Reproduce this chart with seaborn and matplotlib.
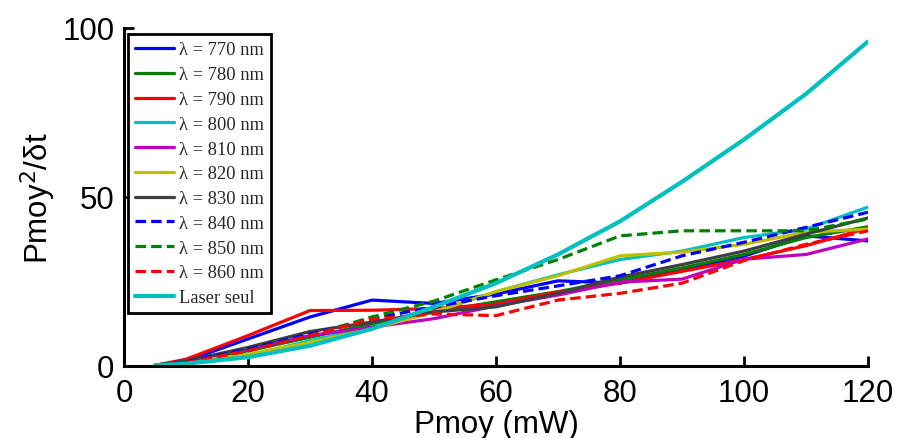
import numpy as np
import pandas as pd
import matplotlib
matplotlib.use("Agg")
import matplotlib.pyplot as plt
import seaborn as sns

sns.set_theme(style="white")
plt.rcParams['font.family'] = ['Liberation Sans', 'DejaVu Sans']

x = [5, 10, 20, 30, 40, 50, 60, 70, 80, 90, 100, 110, 120]

y770 = [0.2, 1.5, 8, 14.5, 19.5, 18.5, 21.3, 25.2, 24.5, 28.5, 32.5, 38.5, 37]
y780 = [0.2, 1.2, 4.5, 8.5, 12.5, 16, 19, 22, 25.5, 29, 33, 38, 41.2]
y790 = [0.2, 2, 9, 16.4, 16.5, 17, 18.3, 21.9, 24.5, 28, 31.5, 35.6, 40.8]
y800 = [0.2, 0.8, 3, 7.5, 11.5, 16, 22, 27, 31.5, 34, 38, 40.5, 47]
y810 = [0.2, 1.5, 5, 9, 11.5, 14, 17.8, 21, 24.8, 25.7, 31.6, 33, 37.6]
y820 = [0.2, 1, 3.5, 7, 11, 16, 22, 26.7, 32.6, 33.7, 36, 39.6, 40.5]
y830 = [0.2, 1.5, 5.5, 10.2, 13, 16, 17.5, 21.5, 26.3, 30, 34, 39, 43.8]
y840 = [0.2, 1.2, 5, 9.5, 14, 17.5, 20.8, 23.7, 26.7, 32.6, 36.6, 41, 45.5]
y850 = [0.2, 1, 4.5, 9, 14.5, 19.2, 25.5, 31.5, 38.5, 40, 40, 40, 43.5]
y860 = [0.2, 1, 4.5, 9, 13.9, 15.4, 14.9, 19.5, 21.5, 24.5, 31.2, 36, 40]
ylaser = [0.2, 0.7, 2.6, 6, 11, 17.5, 24.5, 33, 42.8, 54.5, 67, 80.5, 96]

labels = ['λ = 770 nm', 'λ = 780 nm', 'λ = 790 nm', 'λ = 800 nm', 'λ = 810 nm',
          'λ = 820 nm', 'λ = 830 nm', 'λ = 840 nm', 'λ = 850 nm', 'λ = 860 nm',
          'Laser seul']
series = [y770, y780, y790, y800, y810, y820, y830, y840, y850, y860, ylaser]
colors = ['#0000ff', '#008000', '#ff0000', '#00bfbf', '#bf00bf', '#bfbf00',
          '#404040', '#0000ff', '#008000', '#ff0000', '#00bfbf']
dashed = [False] * 7 + [True] * 3 + [False]
widths = [2.3] * 10 + [3.0]

fig = plt.figure(figsize=(8.99, 4.39), dpi=100)
ax = fig.add_axes([124/899, 1-367/439, (868-124)/899, (367-29)/439])

for lab, ys, c, d, w in zip(labels, series, colors, dashed, widths):
    df = pd.DataFrame({'x': x, 'y': ys})
    sns.lineplot(data=df, x='x', y='y', ax=ax, color=c, linewidth=w,
                 label=lab, estimator=None, sort=False)
    l = ax.get_lines()[-1]
    if d:
        l.set_dashes([3.3, 1.6])

ax.set_xlim(0, 120)
ax.set_ylim(0, 100)
ax.set_xticks([0, 20, 40, 60, 80, 100, 120])
ax.set_yticks([0, 50, 100])
ax.tick_params(direction='in', length=7, width=2, labelsize=22.5, colors='black',
               bottom=True, left=True)
ax.tick_params(axis='x', pad=9)
ax.tick_params(axis='y', pad=7)
for s in ['top', 'right']:
    ax.spines[s].set_visible(False)
for s in ['left', 'bottom']:
    ax.spines[s].set_linewidth(2.2)
    ax.spines[s].set_color('black')
ax.set_xlabel('Pmoy (mW)', fontsize=22.5, labelpad=0, color='black')
ax.set_ylabel(r'Pmoy$^{2}$/δt', fontsize=22.5, labelpad=3, color='black')
ax.patch.set_alpha(0)

leg = ax.legend(loc='upper left', bbox_to_anchor=(0.005, 0.982),
                prop={'family': 'Liberation Serif', 'size': 13.3},
                frameon=True, fancybox=False, framealpha=1,
                handlelength=2.1, handletextpad=0.28, labelspacing=0.42,
                borderpad=0.4, borderaxespad=0)
leg.get_frame().set_edgecolor('black')
leg.get_frame().set_linewidth(2)

fig.savefig('out.png', dpi=100)
